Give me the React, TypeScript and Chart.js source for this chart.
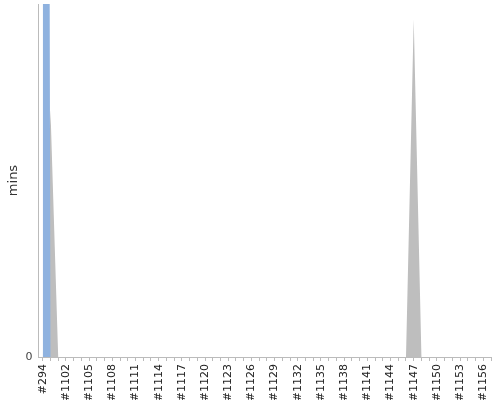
import { useEffect, useRef } from "react";
import Chart from "chart.js/auto";

// build numbers along the x axis
const builds: string[] = ["#294"];
for (let n = 1100; n <= 1157; n++) builds.push("#" + n);

// minutes per build (most builds are 0)
const blueMins: number[] = [300, 0, 0, 0, 0, 0, 0, 0, 0, 0, 0, 0, 0, 0, 0, 0, 0, 0, 0, 0, 0, 0, 0, 0, 0, 0, 0, 0, 0, 0, 0, 0, 0, 0, 0, 0, 0, 0, 0, 0, 0, 0, 0, 0, 0, 0, 0, 0, 0, 0, 0, 0, 0, 0, 0, 0, 0, 0, 0];
const grayMins: number[] = [0, 21, 0, 0, 0, 0, 0, 0, 0, 0, 0, 0, 0, 0, 0, 0, 0, 0, 0, 0, 0, 0, 0, 0, 0, 0, 0, 0, 0, 0, 0, 0, 0, 0, 0, 0, 0, 0, 0, 0, 0, 0, 0, 0, 0, 0, 0, 0, 28.7, 0, 0, 0, 0, 0, 0, 0, 0, 0, 0];
const yTicks: number[] = [0];

const toPoints = (vals: number[]) => vals.map((y, i) => ({ x: i, y }));

const BuildTrend = () => {
  const chartRef = useRef<HTMLCanvasElement | null>(null);
  const chartInstance = useRef<Chart | null>(null);

  useEffect(() => {
    if (!chartRef.current) return;
    if (chartInstance.current) chartInstance.current.destroy();

    const ctx = chartRef.current.getContext("2d");
    if (ctx) {
      chartInstance.current = new Chart(ctx, {
        type: "line",
        data: {
          datasets: [
            {
              label: "blue",
              data: toPoints(blueMins),
              backgroundColor: "rgb(143,178,223)",
              borderWidth: 0,
              fill: "origin",
              pointRadius: 0,
              tension: 0
            },
            {
              label: "gray",
              data: toPoints(grayMins),
              backgroundColor: "rgb(190,190,190)",
              borderWidth: 0,
              fill: "origin",
              pointRadius: 0,
              tension: 0
            }
          ]
        },
        options: {
          animation: false,
          responsive: true,
          maintainAspectRatio: false,
          layout: { padding: { left: 6, right: 9, top: 4, bottom: 0 } },
          plugins: {
            legend: { display: false },
            tooltip: { enabled: false }
          },
          scales: {
            x: {
              type: "linear",
              min: -0.55,
              max: builds.length - 1,
              grid: { drawOnChartArea: false, drawTicks: true, tickLength: 4, color: "#bbb" },
              border: { color: "#bbb" },
              afterBuildTicks: (axis) => {
                axis.ticks = builds.map((_, i) => ({ value: i }));
              },
              afterFit: (axis) => {
                axis.height = 43;
                axis.paddingLeft = 0;
                axis.paddingRight = 0;
              },
              ticks: {
                autoSkip: false,
                maxRotation: 90,
                minRotation: 90,
                padding: 3,
                color: "#222",
                font: { family: "DejaVu Sans", size: 11 },
                callback: (v) => {
                  const i = Number(v);
                  return i % 3 === 0 ? builds[i] : "";
                }
              }
            },
            y: {
              min: 0,
              max: 30,
              grid: { display: false, drawTicks: true, tickLength: 3 },
              border: { color: "#bbb" },
              afterBuildTicks: (axis) => {
                axis.ticks = yTicks.map((v) => ({ value: v }));
              },
              afterFit: (axis) => {
                axis.width = 32.5;
                axis.paddingTop = 0;
                axis.paddingBottom = 0;
              },
              ticks: {
                color: "#444",
                padding: 3,
                font: { family: "DejaVu Sans", size: 11 }
              },
              title: {
                display: true,
                text: "mins",
                color: "#333",
                padding: { top: 0, bottom: 1 },
                font: { family: "DejaVu Sans", size: 13 }
              }
            }
          }
        }
      });
    }

    return () => {
      if (chartInstance.current) chartInstance.current.destroy();
    };
  }, []);

  return <canvas ref={chartRef} />;
};

export default function App() {
  useEffect(() => {
    document.body.style.margin = "0";
  }, []);
  return (
    <div style={{ position: "relative", width: 500, height: 400, background: "#fff" }}>
      <BuildTrend />
    </div>
  );
}
